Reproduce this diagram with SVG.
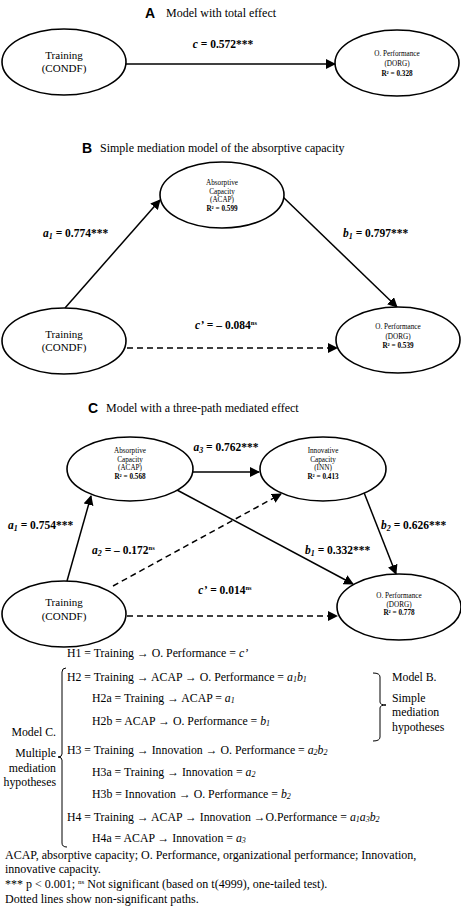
<svg xmlns="http://www.w3.org/2000/svg" width="461" height="912" viewBox="0 0 461 912">
<defs>
<marker id="ah" viewBox="0 0 10 10" refX="9" refY="5" markerWidth="10" markerHeight="10" markerUnits="userSpaceOnUse" orient="auto">
<path d="M0,0 L10,5 L0,10 z" fill="#000"/>
</marker>
<style>
.n{fill:#fff;stroke:#000;stroke-width:1.6}
.big{font-family:"Liberation Serif",serif;font-size:11px;text-anchor:middle}
.sm{font-family:"Liberation Serif",serif;font-size:7.2px;text-anchor:middle}
.smb{font-family:"Liberation Serif",serif;font-size:7.2px;font-weight:bold;text-anchor:middle}
.lab{font-family:"Liberation Serif",serif;font-size:11.5px;font-weight:bold}
.ttl{font-family:"Liberation Serif",serif;font-size:12px}
.pl{font-family:"Liberation Sans",sans-serif;font-size:14px;font-weight:bold}
.hy{font-family:"Liberation Serif",serif;font-size:11.8px}
.ft{font-family:"Liberation Serif",serif;font-size:12px}
.e{stroke:#000;stroke-width:1.5;fill:none;marker-end:url(#ah)}
.d{stroke-dasharray:6,4}
.br{stroke:#000;stroke-width:1;fill:none}
</style>
</defs>
<rect width="461" height="912" fill="#fff"/>

<!-- titles -->
<g id="titles">
<text class="pl" x="145" y="18">A</text><text class="ttl" x="166" y="17">Model with total effect</text>
<text class="pl" x="82" y="153">B</text><text class="ttl" x="100" y="152">Simple mediation model of the absorptive capacity</text>
<text class="pl" x="88" y="413">C</text><text class="ttl" x="106" y="412">Model with a three-path mediated effect</text>
</g>

<!-- connectors -->
<g id="connectors">
<line class="e" x1="126" y1="64" x2="335" y2="64"/>
<line class="e" x1="65" y1="308" x2="160" y2="200"/>
<line class="e" x1="283" y1="197" x2="397" y2="307"/>
<line class="e d" x1="127" y1="348" x2="337" y2="348"/>
<line class="e" x1="193" y1="472" x2="259" y2="472"/>
<line class="e" x1="67" y1="581" x2="91" y2="496"/>
<line class="e d" x1="113" y1="586" x2="281" y2="494"/>
<line class="e" x1="177" y1="490" x2="353" y2="584"/>
<line class="e" x1="363" y1="490" x2="396" y2="574"/>
<line class="e d" x1="127" y1="616" x2="337" y2="616"/>
</g>

<!-- path labels -->
<g id="labels">
<text class="lab" x="223" y="48" text-anchor="middle"><tspan font-style="italic">c</tspan> = 0.572***</text>
<text class="lab" x="43" y="237"><tspan font-style="italic">a</tspan><tspan font-style="italic" font-size="8" dy="2">1</tspan><tspan dy="-2"> = 0.774***</tspan></text>
<text class="lab" x="343" y="237"><tspan font-style="italic">b</tspan><tspan font-style="italic" font-size="8" dy="2">1</tspan><tspan dy="-2"> = 0.797***</tspan></text>
<text class="lab" x="226" y="329" text-anchor="middle"><tspan font-style="italic">c’</tspan> = – 0.084<tspan font-size="6.5" dy="-4">ns</tspan></text>
<text class="lab" x="226" y="451" text-anchor="middle"><tspan font-style="italic">a</tspan><tspan font-style="italic" font-size="8" dy="2">3</tspan><tspan dy="-2"> = 0.762***</tspan></text>
<text class="lab" x="8" y="529"><tspan font-style="italic">a</tspan><tspan font-style="italic" font-size="8" dy="2">1</tspan><tspan dy="-2"> = 0.754***</tspan></text>
<text class="lab" x="92" y="554"><tspan font-style="italic">a</tspan><tspan font-style="italic" font-size="8" dy="2">2</tspan><tspan dy="-2"> = – 0.172</tspan><tspan font-size="6.5" dy="-4">ns</tspan></text>
<text class="lab" x="305" y="554"><tspan font-style="italic">b</tspan><tspan font-style="italic" font-size="8" dy="2">1</tspan><tspan dy="-2"> = 0.332***</tspan></text>
<text class="lab" x="381" y="529"><tspan font-style="italic">b</tspan><tspan font-style="italic" font-size="8" dy="2">2</tspan><tspan dy="-2"> = 0.626***</tspan></text>
<text class="lab" x="225" y="594" text-anchor="middle"><tspan font-style="italic">c’</tspan> = 0.014<tspan font-size="6.5" dy="-4">ns</tspan></text>
</g>

<!-- nodes -->
<g id="nA_train"><ellipse class="n" cx="64" cy="62" rx="62" ry="33"/>
<text class="big" x="64" y="59">Training</text><text class="big" x="64" y="72">(CONDF)</text></g>
<g id="nA_perf"><ellipse class="n" cx="397" cy="63" rx="62" ry="33"/>
<text class="sm" x="397" y="56">O. Performance</text><text class="sm" x="397" y="66">(DORG)</text><text class="smb" x="397" y="76">R² = 0.328</text></g>

<g id="nB_acap"><ellipse class="n" cx="222" cy="195" rx="62" ry="33"/>
<text class="sm" x="222" y="185">Absorptive</text><text class="sm" x="222" y="193.5">Capacity</text><text class="sm" x="222" y="202">(ACAP)</text><text class="smb" x="222" y="210.5">R² = 0.599</text></g>
<g id="nB_train"><ellipse class="n" cx="64" cy="341" rx="62" ry="33"/>
<text class="big" x="64" y="338">Training</text><text class="big" x="64" y="351">(CONDF)</text></g>
<g id="nB_perf"><ellipse class="n" cx="398" cy="340" rx="62" ry="33"/>
<text class="sm" x="398" y="329">O. Performance</text><text class="sm" x="398" y="339">(DORG)</text><text class="smb" x="398" y="348">R² = 0.539</text></g>

<g id="nC_acap"><ellipse class="n" cx="130" cy="469" rx="63" ry="32"/>
<text class="sm" x="130" y="453">Absorptive</text><text class="sm" x="130" y="461.5">Capacity</text><text class="sm" x="130" y="470">(ACAP)</text><text class="smb" x="130" y="478.5">R² = 0.568</text></g>
<g id="nC_inn"><ellipse class="n" cx="323" cy="469" rx="63" ry="32"/>
<text class="sm" x="323" y="453">Innovative</text><text class="sm" x="323" y="461.5">Capacity</text><text class="sm" x="323" y="470">(INN)</text><text class="smb" x="323" y="478.5">R² = 0.413</text></g>
<g id="nC_train"><ellipse class="n" cx="64" cy="614" rx="62" ry="33"/>
<text class="big" x="64" y="606">Training</text><text class="big" x="64" y="620">(CONDF)</text></g>
<g id="nC_perf"><ellipse class="n" cx="399" cy="607" rx="62" ry="33"/>
<text class="sm" x="399" y="598">O. Performance</text><text class="sm" x="399" y="606.5">(DORG)</text><text class="smb" x="399" y="615">R² = 0.778</text></g>

<!-- hypotheses -->
<g id="hypotheses">
<text class="hy" x="67" y="657">H1 = Training → O. Performance = <tspan font-style="italic">c’</tspan></text>
<text class="hy" x="67" y="681">H2 = Training → ACAP → O. Performance = <tspan font-style="italic">a</tspan><tspan font-style="italic" font-size="8" dy="1">1</tspan><tspan font-style="italic" dy="-1">b</tspan><tspan font-style="italic" font-size="8" dy="1">1</tspan></text>
<text class="hy" x="92" y="702">H2a = Training → ACAP = <tspan font-style="italic">a</tspan><tspan font-style="italic" font-size="8" dy="1">1</tspan></text>
<text class="hy" x="92" y="725">H2b = ACAP → O. Performance = <tspan font-style="italic">b</tspan><tspan font-style="italic" font-size="8" dy="1">1</tspan></text>
<text class="hy" x="67" y="754">H3 = Training → Innovation → O. Performance = <tspan font-style="italic">a</tspan><tspan font-style="italic" font-size="8" dy="1">2</tspan><tspan font-style="italic" dy="-1">b</tspan><tspan font-style="italic" font-size="8" dy="1">2</tspan></text>
<text class="hy" x="92" y="776">H3a = Training → Innovation = <tspan font-style="italic">a</tspan><tspan font-style="italic" font-size="8" dy="1">2</tspan></text>
<text class="hy" x="92" y="798">H3b = Innovation → O. Performance = <tspan font-style="italic">b</tspan><tspan font-style="italic" font-size="8" dy="1">2</tspan></text>
<text class="hy" x="67" y="821">H4 = Training → ACAP → Innovation →O.Performance = <tspan font-style="italic">a</tspan><tspan font-style="italic" font-size="8" dy="1">1</tspan><tspan font-style="italic" dy="-1">a</tspan><tspan font-style="italic" font-size="8" dy="1">3</tspan><tspan font-style="italic" dy="-1">b</tspan><tspan font-style="italic" font-size="8" dy="1">2</tspan></text>
<text class="hy" x="92" y="842">H4a = ACAP → Innovation = <tspan font-style="italic">a</tspan><tspan font-style="italic" font-size="8" dy="1">3</tspan></text>
<path class="br" d="M66,668 Q62,668 62,672 L62,754 Q62,757 58,757 Q62,757 62,760 L62,843 Q62,847 67,847"/>
<path class="br" d="M373,673 Q380,673 380,677 L380,702 Q380,705 386,705 Q380,705 380,708 L380,737 Q380,741 373,741"/>
<text class="hy" x="56" y="736" text-anchor="end">Model C.</text>
<text class="hy" x="56" y="757" text-anchor="end">Multiple</text>
<text class="hy" x="56" y="772" text-anchor="end">mediation</text>
<text class="hy" x="56" y="786" text-anchor="end">hypotheses</text>
<text class="hy" x="392" y="681">Model B.</text>
<text class="hy" x="392" y="702">Simple</text>
<text class="hy" x="392" y="716">mediation</text>
<text class="hy" x="392" y="731">hypotheses</text>
</g>

<!-- footnote -->
<g id="footnote">
<text class="ft" x="5" y="859">ACAP, absorptive capacity; O. Performance, organizational performance; Innovation,</text>
<text class="ft" x="5" y="873">innovative capacity.</text>
<text class="ft" x="5" y="888">*** p &lt; 0.001; <tspan font-size="7" dy="-4">ns</tspan><tspan dy="4"> Not significant (based on t(4999), one-tailed test).</tspan></text>
<text class="ft" x="5" y="903">Dotted lines show non-significant paths.</text>
</g>
</svg>
